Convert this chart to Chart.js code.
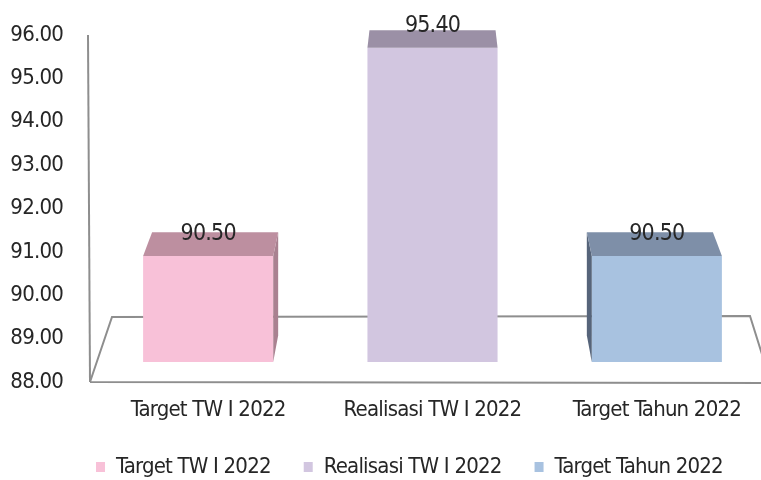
<!DOCTYPE html>
<html><head><meta charset="utf-8">
<script src="https://cdn.jsdelivr.net/npm/chart.js@4.4.1/dist/chart.umd.min.js"></script>
<style>html,body{margin:0;padding:0;background:#fff;overflow:hidden}#wrap{width:769px;height:480px}</style>
</head><body><div id="wrap"><canvas id="c"></canvas></div>
<script>
const categories = ['Target TW I 2022', 'Realisasi TW I 2022', 'Target Tahun 2022'];
const values = [90.50, 95.40, 90.50];
const tickValues = [88, 89, 90, 91, 92, 93, 94, 95, 96];
const frontColors = ['#F8C1D8', '#D2C6E0', '#A8C2E0'];
const topColors = ['#BD8FA0', '#9B90A6', '#7E8FA8'];
const sideColors = ['#A98190', '#8F859A', '#56647A'];
const FONT = "'Liberation Sans Narrow','Arial Narrow','DejaVu Sans Condensed',sans-serif";
const TEXT = '#262626';
const SPACING = '-0.8px';

const depthY = y => 17.7 + 0.028 * (y - 47.7);
const K = 0.031;

function setSpacing(chart) {
  if ('letterSpacing' in chart.ctx) chart.ctx.letterSpacing = SPACING;
}

const bar3d = {
  id: 'bar3d',
  beforeUpdate: setSpacing,
  beforeLayout: setSpacing,
  afterLayout(chart) {
    const lg = chart.legend;
    if (lg) {
      const shift = chart.chartArea.left - lg.options.labels.padding - lg.left;
      lg.left += shift;
      lg.right += shift;
    }
  },
  beforeDraw: setSpacing,
  beforeDatasetsDraw(chart) {
    const {ctx, chartArea: a, scales} = chart;
    const base = scales.yb.getPixelForValue(88);
    ctx.save();
    ctx.strokeStyle = '#8e8e8e';
    ctx.lineWidth = 2;
    ctx.beginPath();
    ctx.moveTo(a.left - 8, a.top);
    ctx.lineTo(a.left - 6, a.bottom);
    ctx.stroke();
    ctx.beginPath();
    ctx.moveTo(a.left - 6, a.bottom);
    ctx.lineTo(a.left + 16, base - 45);
    ctx.lineTo(a.right - 19, base - 46);
    ctx.lineTo(a.right + 2, a.bottom + 1);
    ctx.moveTo(a.left - 6, a.bottom);
    ctx.lineTo(a.right + 2, a.bottom + 1);
    ctx.stroke();
    ctx.restore();
  },
  afterDatasetsDraw(chart) {
    const {ctx, chartArea: a} = chart;
    const vp = (a.left + a.right) / 2;
    const meta = chart.getDatasetMeta(0);
    meta.data.forEach((bar, i) => {
      const {x, y, base, width} = bar.getProps(['x', 'y', 'base', 'width'], true);
      const l = x - width / 2, r = x + width / 2;
      const dTop = depthY(y), dBot = depthY(base);
      const bl = l + (vp - l) * K, br = r + (vp - r) * K;
      ctx.save();
      ctx.fillStyle = sideColors[i];
      if (br > r + 0.5) {
        ctx.beginPath();
        ctx.moveTo(r, y); ctx.lineTo(br, y - dTop); ctx.lineTo(br, base - dBot); ctx.lineTo(r, base);
        ctx.closePath(); ctx.fill();
      } else if (bl < l - 0.5) {
        ctx.beginPath();
        ctx.moveTo(l, y); ctx.lineTo(bl, y - dTop); ctx.lineTo(bl, base - dBot); ctx.lineTo(l, base);
        ctx.closePath(); ctx.fill();
      }
      ctx.fillStyle = topColors[i];
      ctx.beginPath();
      ctx.moveTo(l, y); ctx.lineTo(bl, y - dTop); ctx.lineTo(br, y - dTop); ctx.lineTo(r, y);
      ctx.closePath(); ctx.fill();
      ctx.fillStyle = TEXT;
      ctx.font = '23px ' + FONT;
      ctx.textAlign = 'center';
      ctx.textBaseline = 'alphabetic';
      ctx.fillText(values[i].toFixed(2), x, y - 16);
      ctx.restore();
    });
  }
};

new Chart(document.getElementById('c'), {
  type: 'bar',
  data: {
    labels: categories,
    datasets: [{
      label: 'Nilai',
      data: values,
      base: 88,
      yAxisID: 'yb',
      backgroundColor: frontColors,
      borderWidth: 0,
      categoryPercentage: 0.58,
      barPercentage: 1
    }]
  },
  options: {
    responsive: true,
    maintainAspectRatio: false,
    animation: false,
    layout: {padding: {top: 35, left: 0, right: 0, bottom: -8}},
    plugins: {
      tooltip: {enabled: false},
      legend: {
        position: 'bottom',
        align: 'start',
        onClick: () => {},
        labels: {
          boxWidth: 9,
          boxHeight: 10,
          padding: 33,
          color: TEXT,
          font: {family: FONT, size: 22},
          generateLabels: () => categories.map((c, i) => ({
            text: c, fillStyle: frontColors[i], strokeStyle: frontColors[i],
            lineWidth: 0, hidden: false, index: i, fontColor: TEXT
          }))
        }
      }
    },
    scales: {
      x: {
        grid: {display: false, drawTicks: false},
        border: {display: false},
        ticks: {color: TEXT, font: {family: FONT, size: 22}, padding: 15, maxRotation: 0},
        afterFit: s => { s.height = 41; s.paddingLeft = 0; s.paddingRight = 0; }
      },
      y: {
        position: 'left',
        min: tickValues[0], max: tickValues[tickValues.length - 1],
        grid: {display: false, drawTicks: false},
        border: {display: false},
        afterBuildTicks: s => { s.ticks = tickValues.map(v => ({value: v})); },
        ticks: {color: TEXT, font: {family: FONT, size: 22}, padding: 33, autoSkip: false, callback: v => Number(v).toFixed(2)},
        afterFit: s => { s.width = 96; s.paddingTop = 0; s.paddingBottom = 0; }
      },
      yb: {
        display: false,
        min: 87.529, max: 95.703
      }
    }
  },
  plugins: [bar3d]
});
</script>
</body></html>
